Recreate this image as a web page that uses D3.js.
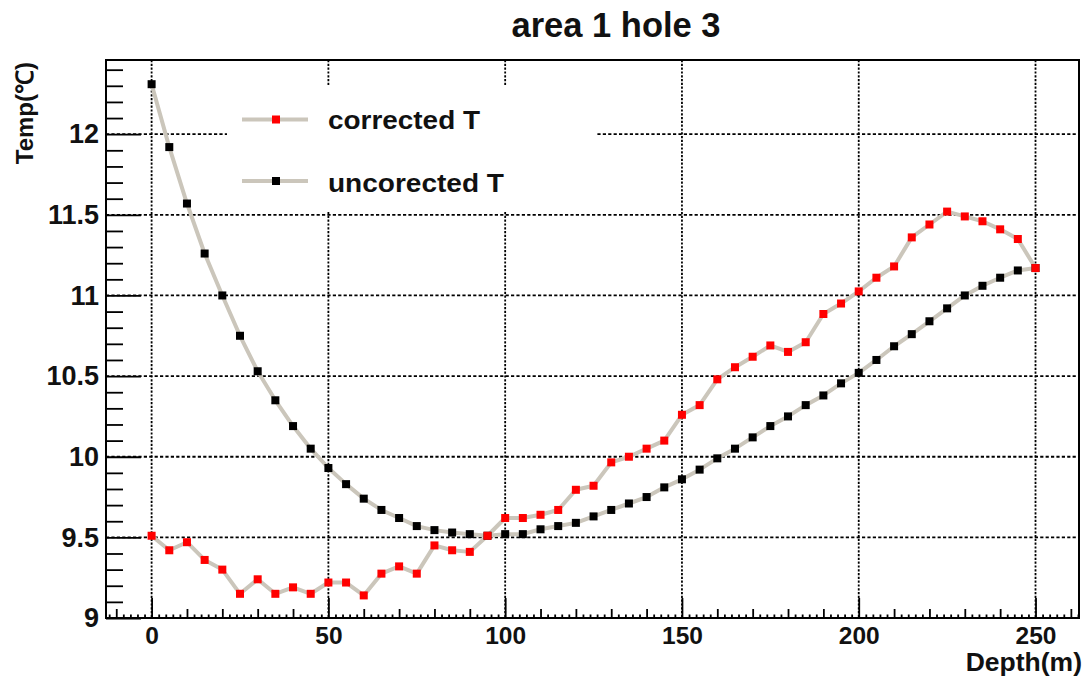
<!DOCTYPE html>
<html>
<head>
<meta charset="utf-8">
<script src="https://cdn.jsdelivr.net/npm/d3@7"></script>
<style>
  html, body { margin: 0; padding: 0; background: #fff; }
  svg { display: block; }
  text { font-family: "Liberation Sans", Arial, sans-serif; font-weight: bold; fill: #111; }
</style>
</head>
<body>
<svg id="chart" width="1088" height="680"></svg>
<script>
// Depth of each measurement (m)
const depths = [0,5,10,15,20,25,30,35,40,45,50,55,60,65,70,75,80,85,90,95,100,
  105,110,115,120,125,130,135,140,145,150,155,160,165,170,175,180,185,190,195,200,
  205,210,215,220,225,230,235,240,245,250];

// Temperatures (°C) after correction
const correctedT = [9.51,9.42,9.47,9.36,9.30,9.15,9.24,9.15,9.19,9.15,9.22,9.22,9.14,9.275,9.32,9.275,
  9.45,9.42,9.41,9.51,9.62,9.62,9.64,9.67,9.795,9.82,9.965,10.0,10.05,10.10,10.26,10.32,10.48,
  10.555,10.62,10.69,10.65,10.71,10.885,10.95,11.025,11.11,11.18,11.36,11.44,11.52,11.49,11.46,
  11.41,11.35,11.17];

// Raw temperatures (°C)
const uncorrectedT = [12.31,11.92,11.57,11.26,11.0,10.75,10.53,10.35,10.19,10.05,9.93,9.83,9.74,
  9.67,9.62,9.57,9.545,9.53,9.52,9.51,9.52,9.52,9.55,9.57,9.59,9.63,9.67,9.71,9.75,9.81,9.86,
  9.92,9.99,10.05,10.12,10.19,10.25,10.32,10.38,10.455,10.52,10.60,10.685,10.76,10.84,10.92,
  11.0,11.06,11.11,11.155,11.17];

const xTickLabels = [0, 50, 100, 150, 200, 250];
const yTickLabels = [9, 9.5, 10, 10.5, 11, 11.5, 12];
const seriesNames = ["corrected T", "uncorected T"];
const seriesColors = ["#ff0000", "#000000"];

const svg = d3.select("#chart");
const frame = { left: 106, right: 1079, top: 60, bottom: 618 };

const x = d3.scaleLinear().domain([-12.9, 262.3]).range([frame.left, frame.right]);
const y = d3.scaleLinear().domain([9, 12.46]).range([frame.bottom, frame.top]);

// Grid
const grid = svg.append("g");
grid.selectAll("line.gy").data(yTickLabels.slice(1)).join("line")
  .attr("x1", frame.left).attr("x2", frame.right)
  .attr("y1", d => y(d)).attr("y2", d => y(d))
  .attr("stroke", "#000").attr("stroke-width", 1.8).attr("stroke-dasharray", "3.2,2.2");
grid.selectAll("line.gx").data(xTickLabels).join("line")
  .attr("x1", d => x(d)).attr("x2", d => x(d))
  .attr("y1", frame.top).attr("y2", frame.bottom)
  .attr("stroke", "#000").attr("stroke-width", 1.8).attr("stroke-dasharray", "2.2,1.6");

// Ticks drawn inward from the bottom and left frame edges
function tickLayer(axis) {
  const g = svg.append("g");
  g.call(axis);
  g.select(".domain").remove();
  g.selectAll("text").remove();
  g.selectAll("line").attr("stroke", "#000").attr("stroke-width", 1.8);
  return g;
}
const xAll = d3.range(-12, 263, 2);
const x10 = d3.range(-10, 262, 10).filter(d => d % 50 !== 0);
tickLayer(d3.axisBottom(x).tickValues(xAll.filter(d => d % 10 !== 0)).tickSize(-3.5))
  .attr("transform", `translate(0,${frame.bottom})`);
tickLayer(d3.axisBottom(x).tickValues(x10).tickSize(-9))
  .attr("transform", `translate(0,${frame.bottom})`);
tickLayer(d3.axisBottom(x).tickValues(xTickLabels).tickSize(-20))
  .attr("transform", `translate(0,${frame.bottom})`);

const yMinor = d3.range(9.1, 12.46, 0.1).map(d => +d.toFixed(1)).filter(d => Math.abs(d * 2 - Math.round(d * 2)) > 1e-6);
tickLayer(d3.axisLeft(y).tickValues(yMinor).tickSize(-17))
  .attr("transform", `translate(${frame.left},0)`);
tickLayer(d3.axisLeft(y).tickValues(yTickLabels).tickSize(-35))
  .attr("transform", `translate(${frame.left},0)`);

// Tick labels
const xLab = svg.append("g").attr("transform", `translate(0,${frame.bottom})`)
  .call(d3.axisBottom(x).tickValues(xTickLabels).tickSize(0).tickPadding(9).tickFormat(d3.format("d")));
xLab.select(".domain").remove();
xLab.selectAll("text").attr("font-size", 24.5).attr("fill", "#111")
  .attr("font-family", "'Liberation Sans', Arial, sans-serif").attr("font-weight", "bold");

const yLab = svg.append("g").attr("transform", `translate(${frame.left},0)`)
  .call(d3.axisLeft(y).tickValues(yTickLabels).tickSize(0).tickPadding(7).tickFormat(d => String(d)));
yLab.select(".domain").remove();
yLab.selectAll("text").attr("font-size", 27).attr("fill", "#111")
  .attr("font-family", "'Liberation Sans', Arial, sans-serif").attr("font-weight", "bold");

// Legend background (white, no border) sits above the grid
const legend = svg.append("g");
legend.append("rect").attr("x", 227).attr("y", 85).attr("width", 370).attr("height", 126).attr("fill", "#fff");

// Series: connecting lines first, then markers (raw series below the corrected one)
const series = [correctedT, uncorrectedT];
const lineGen = d3.line().x((d, i) => x(depths[i])).y(d => y(d));
const ms = 8;
series.forEach(vals => {
  svg.append("path").datum(vals).attr("d", lineGen)
    .attr("fill", "none").attr("stroke", "#cbc6bb").attr("stroke-width", 4)
    .attr("stroke-linejoin", "round");
});
[1, 0].forEach(k => {
  svg.append("g").selectAll("rect").data(series[k]).join("rect")
    .attr("x", (d, i) => x(depths[i]) - ms / 2).attr("y", d => y(d) - ms / 2)
    .attr("width", ms).attr("height", ms).attr("fill", seriesColors[k]);
});

// Legend entries
const legendY = [119.5, 181];
const legendBase = [129, 191.5];
const legendWidths = [152, 176];
seriesNames.forEach((name, k) => {
  legend.append("line").attr("x1", 242).attr("x2", 308).attr("y1", legendY[k]).attr("y2", legendY[k])
    .attr("stroke", "#cbc6bb").attr("stroke-width", 4);
  legend.append("rect").attr("x", 276 - ms / 2).attr("y", legendY[k] - ms / 2)
    .attr("width", ms).attr("height", ms).attr("fill", seriesColors[k]);
  legend.append("text").attr("x", 328).attr("y", legendBase[k]).attr("font-size", 25)
    .attr("textLength", legendWidths[k]).attr("lengthAdjust", "spacingAndGlyphs").text(name);
});
svg.node().appendChild(legend.node());

// Frame
svg.append("rect").attr("x", frame.left).attr("y", frame.top)
  .attr("width", frame.right - frame.left).attr("height", frame.bottom - frame.top)
  .attr("fill", "none").attr("stroke", "#000").attr("stroke-width", 2);

// Title and axis titles
svg.append("text").attr("x", 616).attr("y", 37).attr("text-anchor", "middle")
  .attr("font-size", 34.5).text("area 1 hole 3");
svg.append("text").attr("x", 1082).attr("y", 671).attr("text-anchor", "end")
  .attr("font-size", 26.5).text("Depth(m)");
svg.append("text").attr("transform", "translate(33,62) rotate(-90)").attr("text-anchor", "end")
  .attr("font-size", 24).text("Temp(℃)");
</script>
</body>
</html>
